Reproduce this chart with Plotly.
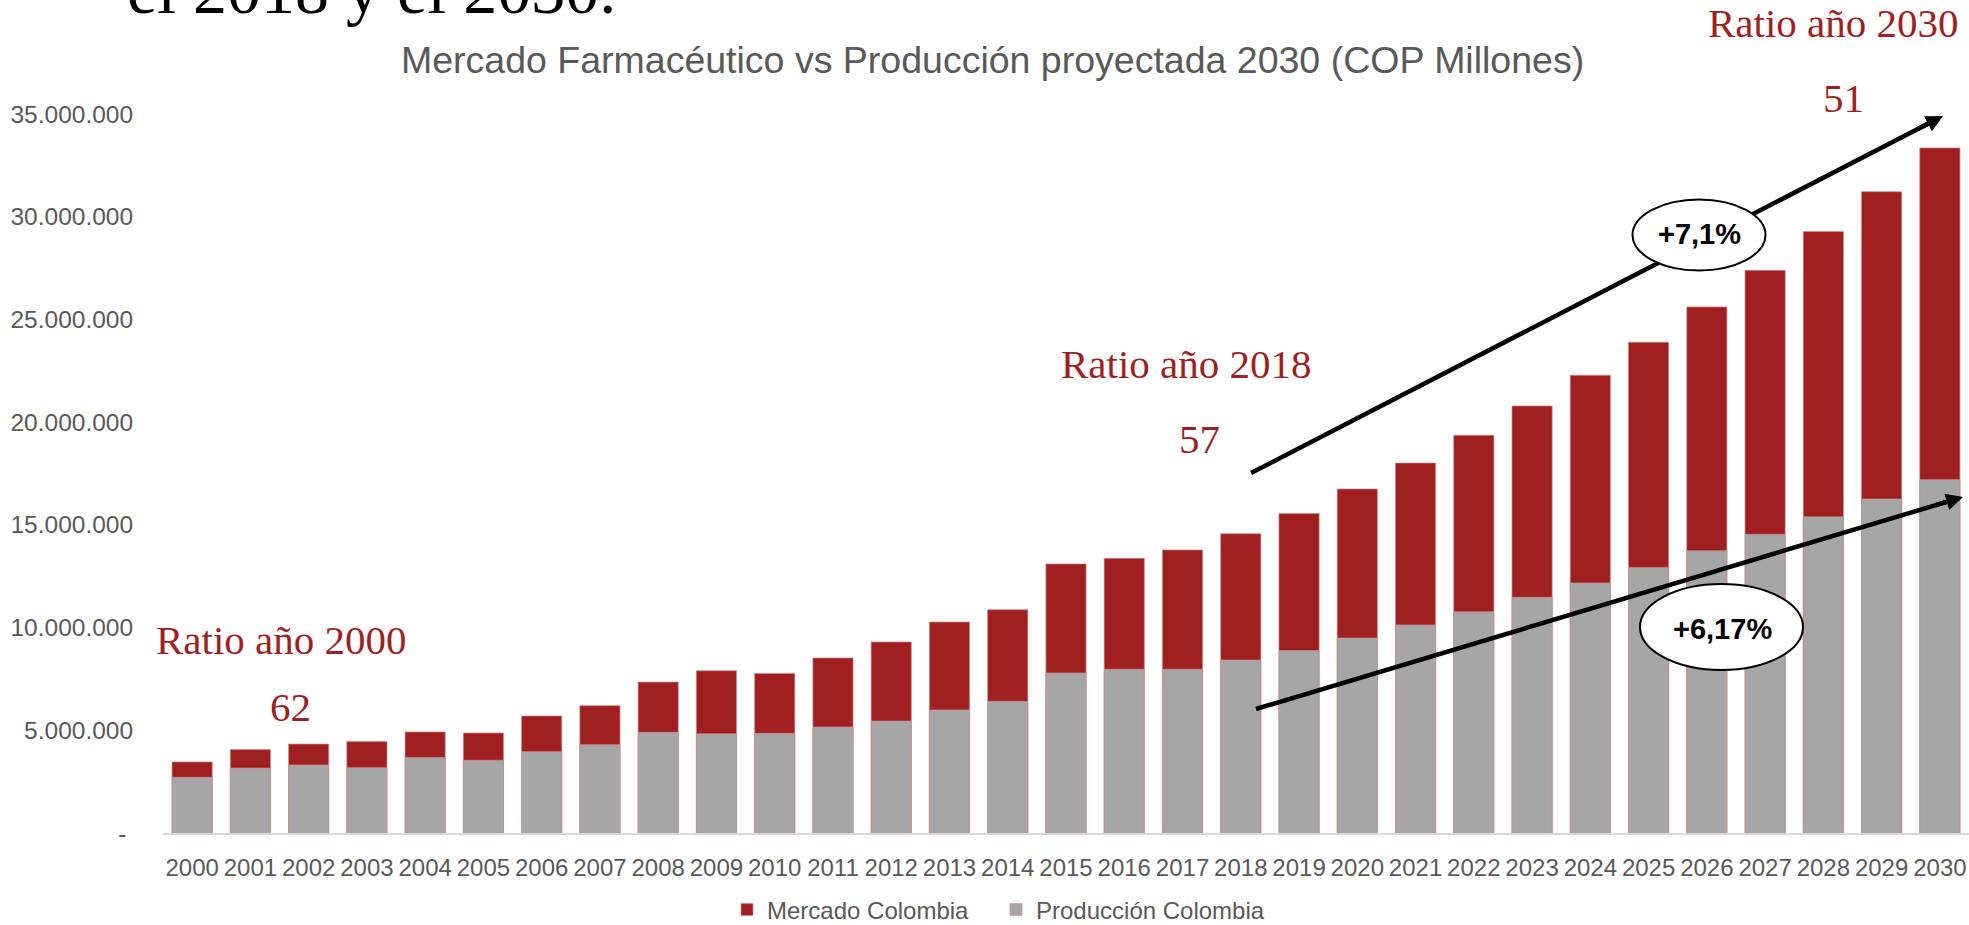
import plotly.graph_objects as go

# ---------------- data ----------------
years = ["2000", "2001", "2002", "2003", "2004", "2005", "2006", "2007", "2008", "2009",
         "2010", "2011", "2012", "2013", "2014", "2015", "2016", "2017", "2018", "2019",
         "2020", "2021", "2022", "2023", "2024", "2025", "2026", "2027", "2028", "2029", "2030"]

mercado_colombia = [3460000, 4060000, 4330000, 4450000, 4920000, 4870000, 5700000, 6200000,
                    7350000, 7900000, 7770000, 8520000, 9300000, 10270000, 10870000, 13100000,
                    13370000, 13780000, 14570000, 15550000, 16750000, 18010000, 19360000,
                    20790000, 22280000, 23890000, 25610000, 27390000, 29280000, 31220000, 33350000]

produccion_colombia = [2710000, 3160000, 3310000, 3180000, 3670000, 3540000, 3960000, 4300000,
                       4900000, 4830000, 4850000, 5160000, 5450000, 5990000, 6410000, 7790000,
                       7970000, 7970000, 8420000, 8880000, 9490000, 10130000, 10770000,
                       11470000, 12170000, 12930000, 13740000, 14540000, 15390000, 16260000, 17200000]

y_tick_values = [0, 5000000, 10000000, 15000000, 20000000, 25000000, 30000000, 35000000]
y_tick_labels = ["-\u00a0", "5.000.000", "10.000.000", "15.000.000", "20.000.000",
                 "25.000.000", "30.000.000", "35.000.000"]

ratio_labels = ["Ratio año 2000", "Ratio año 2018", "Ratio año 2030"]
ratio_values = ["62", "57", "51"]
growth_labels = ["+7,1%", "+6,17%"]

chart_title = "Mercado Farmacéutico vs Producción proyectada 2030 (COP Millones)"
heading_text = "el 2018 y el 2030."

# ---------------- layout geometry (pixels) ----------------
W, H = 1969, 925
L, R, T, B = 163, 0, 114, 92
PW, PH = W - L - R, H - T - B


def px(x):
    return (x - L) / PW


def py(y):
    return (H - B - y) / PH


RED = "#A01F21"
GRAY = "#A6A6A6"
TXT = "#595959"
SANS = "Liberation Sans, Arial, sans-serif"
SERIF = "Liberation Serif, Times New Roman, serif"

fig = go.Figure()
fig.add_trace(go.Bar(
    x=years, y=mercado_colombia, name="Mercado Colombia",
    marker=dict(color=RED, line=dict(color="rgba(205,140,140,0.7)", width=1)),
))
fig.add_trace(go.Bar(
    x=years, y=produccion_colombia, name="Producción Colombia",
    marker=dict(color=GRAY, line=dict(color="rgba(205,140,140,0.7)", width=1)),
))

annotations = []
shapes = []

# title
annotations.append(dict(text=chart_title, x=px(992), y=py(60), xref="paper", yref="paper",
                        xanchor="center", yanchor="middle", showarrow=False,
                        font=dict(family=SANS, size=37.5, color=TXT)))
# cut-off heading at top-left (cropped by the page edge, as in the source slide)
annotations.append(dict(text=heading_text, x=px(125), y=py(-10), xref="paper", yref="paper",
                        xanchor="left", yanchor="middle", showarrow=False,
                        font=dict(family=SERIF, size=68, color="#000000")))

# ratio labels
ratio_pos = [((281, 640), (290, 707)), ((1186, 364), (1199, 439)), ((1833, 23), (1843, 98))]
for lab, val, (p1, p2) in zip(ratio_labels, ratio_values, ratio_pos):
    annotations.append(dict(text=lab, x=px(p1[0]), y=py(p1[1]), xref="paper", yref="paper",
                            xanchor="center", yanchor="middle", showarrow=False,
                            font=dict(family=SERIF, size=41, color=RED)))
    annotations.append(dict(text=val, x=px(p2[0]), y=py(p2[1]), xref="paper", yref="paper",
                            xanchor="center", yanchor="middle", showarrow=False,
                            font=dict(family=SERIF, size=41, color=RED)))

# arrows: body as line shapes, head as annotation
arrows = [((1251, 473), (1943, 116)), ((1256, 709), (1963, 497))]
for (x0, y0), (x1, y1) in arrows:
    dx, dy = x1 - x0, y1 - y0
    ln = (dx * dx + dy * dy) ** 0.5
    ux, uy = dx / ln, dy / ln
    ex, ey = x1 - ux * 12, y1 - uy * 12
    shapes.append(dict(type="line", xref="paper", yref="paper",
                       x0=px(x0), y0=py(y0), x1=px(ex), y1=py(ey),
                       line=dict(color="#000000", width=4.5), layer="above"))
    annotations.append(dict(text="", x=px(x1), y=py(y1), xref="paper", yref="paper",
                            showarrow=True, arrowhead=2, arrowsize=0.75, arrowwidth=4.5,
                            arrowcolor="#000000", ax=-ux * 30, ay=-uy * 30,
                            axref="pixel", ayref="pixel", standoff=0))

# ellipses with growth labels
ellipses = [((1699, 235), 133, 71), ((1721.5, 627), 163, 86)]
text_pos = [(1699.5, 234), (1722, 629)]
for ((cx, cy), w, h), lab, (tx, ty) in zip(ellipses, growth_labels, text_pos):
    shapes.append(dict(type="circle", xref="paper", yref="paper",
                       x0=px(cx - w / 2), x1=px(cx + w / 2), y0=py(cy + h / 2), y1=py(cy - h / 2),
                       fillcolor="#FFFFFF", line=dict(color="#000000", width=2), layer="above"))
    annotations.append(dict(text="<b>" + lab + "</b>", x=px(tx), y=py(ty), xref="paper", yref="paper",
                            xanchor="center", yanchor="middle", showarrow=False,
                            font=dict(family=SANS, size=29, color="#000000")))

fig.update_layout(
    width=W, height=H,
    margin=dict(l=L, r=R, t=T, b=B, pad=0, autoexpand=False),
    paper_bgcolor="#FFFFFF", plot_bgcolor="#FFFFFF",
    barmode="overlay", bargap=0.31,
    font=dict(family=SANS, color=TXT),
    showlegend=True,
    legend=dict(orientation="h", x=px(996), y=py(910), xanchor="center", yanchor="middle",
                font=dict(family=SANS, size=24, color=TXT), traceorder="normal",
                itemwidth=30, entrywidth=224, entrywidthmode="pixels",
                bgcolor="rgba(0,0,0,0)"),
    annotations=annotations,
    shapes=shapes,
    xaxis=dict(type="category", showgrid=False, zeroline=False, showline=True,
               linecolor="#D9D9D9", linewidth=2, ticks="outside", ticklen=12,
               tickcolor="rgba(0,0,0,0)", tickangle=0,
               tickfont=dict(family=SANS, size=24, color=TXT)),
    yaxis=dict(range=[0, 35000000], showgrid=False, zeroline=False, showline=False,
               tickmode="array", tickvals=y_tick_values, ticktext=y_tick_labels,
               ticks="outside", ticklen=24, tickcolor="rgba(0,0,0,0)",
               tickfont=dict(family=SANS, size=24.5, color=TXT)),
)

fig.write_html("out.html", config={"displayModeBar": False},
               post_script="document.body.style.margin='0';document.body.style.overflow='hidden';")
